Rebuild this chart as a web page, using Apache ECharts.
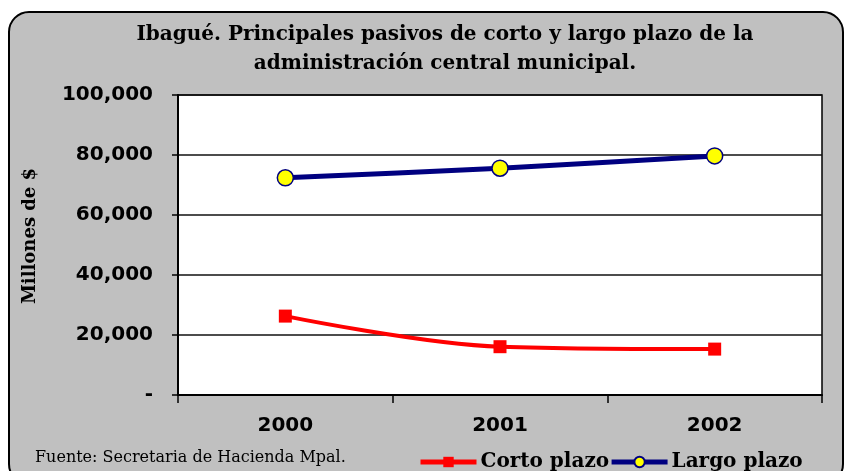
<!DOCTYPE html>
<html>
<head>
<meta charset="utf-8">
<script src="https://cdn.jsdelivr.net/npm/echarts@6/dist/echarts.min.js"></script>
<style>
  html, body { margin: 0; padding: 0; background: #fff; }
  #chart { width: 846px; height: 471px; }
</style>
</head>
<body>
<div id="chart"></div>
<script>
var years = ['2000', '2001', '2002'];
var cortoPlazo = [26300, 16100, 15300];   // Millones de $
var largoPlazo = [72400, 75600, 79700];
var yLabels = ['-', '20,000', '40,000', '60,000', '80,000', '100,000'];

var myChart = echarts.init(document.getElementById('chart'));

myChart.setOption({
    animation: false,
    backgroundColor: '#fff',
    graphic: [{
        type: 'rect',
        z: -10,
        shape: { x: 9, y: 12, width: 834, height: 472, r: 20 },
        style: { fill: '#c0c0c0', stroke: '#000', lineWidth: 2 }
    }, {
        type: 'text',
        left: 35,
        top: 450,
        style: {
            text: 'Fuente: Secretaria de Hacienda Mpal.',
            font: '16px "DejaVu Serif"',
            fill: '#000'
        }
    }, {
        // titulo del eje Y, puesto a mano para centrarlo como en el original
        type: 'text',
        x: 30,
        y: 236,
        rotation: Math.PI / 2,
        style: {
            text: 'Millones de $',
            font: 'bold 18px "DejaVu Serif"',
            fill: '#000',
            align: 'center',
            verticalAlign: 'middle'
        }
    }],
    title: {
        text: 'Ibagué. Principales pasivos de corto y largo plazo de la\nadministración central municipal.',
        left: 440,
        textAlign: 'center',
        top: 15,
        textStyle: {
            fontFamily: 'DejaVu Serif',
            fontWeight: 'bold',
            fontSize: 20,
            lineHeight: 29,
            color: '#000'
        }
    },
    legend: {
        left: 413,
        top: 447,
        itemGap: 0,
        itemWidth: 56,
        itemHeight: 13,
        textStyle: {
            fontFamily: 'DejaVu Serif',
            fontWeight: 'bold',
            fontSize: 20,
            color: '#000',
            padding: [0, 0, 0, -1]
        },
        data: [
            { name: 'Corto plazo', lineStyle: { width: 5 } },
            { name: 'Largo plazo', lineStyle: { width: 5 } }
        ]
    },
    grid: {
        left: 178,
        right: 24,
        top: 95,
        bottom: 76,
        show: true,
        backgroundColor: '#fff',
        borderColor: '#000',
        borderWidth: 1.5
    },
    xAxis: {
        type: 'category',
        data: years,
        boundaryGap: true,
        axisLine: { lineStyle: { color: '#000', width: 2 } },
        axisTick: { show: true, length: 8, lineStyle: { color: '#000', width: 1.5 } },
        axisLabel: {
            margin: 21,
            fontFamily: 'DejaVu Sans',
            fontWeight: 'bold',
            fontSize: 20,
            color: '#000'
        }
    },
    yAxis: {
        type: 'value',
        min: 0,
        max: 100000,
        interval: 20000,
        axisLine: { show: true, lineStyle: { color: '#000', width: 2 } },
        axisTick: { show: true, length: 6, lineStyle: { color: '#000', width: 1.5 } },
        axisLabel: {
            margin: 25,
            fontFamily: 'DejaVu Sans',
            fontWeight: 'bold',
            fontSize: 20,
            color: '#000',
            formatter: function (v) {
                return yLabels[Math.round(v / 20000)];
            }
        },
        splitLine: { show: true, lineStyle: { color: '#111', width: 1.5 } }
    },
    series: [{
        name: 'Corto plazo',
        type: 'line',
        data: cortoPlazo,
        smooth: 0.35,
        symbol: 'rect',
        symbolSize: 13,
        lineStyle: { color: '#ff0000', width: 4 },
        itemStyle: { color: '#ff0000' }
    }, {
        name: 'Largo plazo',
        type: 'line',
        data: largoPlazo,
        smooth: 0.2,
        symbol: 'circle',
        symbolSize: 16,
        lineStyle: { color: '#000080', width: 5 },
        itemStyle: { color: '#ffff00', borderColor: '#000080', borderWidth: 1.5 }
    }]
});
</script>
</body>
</html>
